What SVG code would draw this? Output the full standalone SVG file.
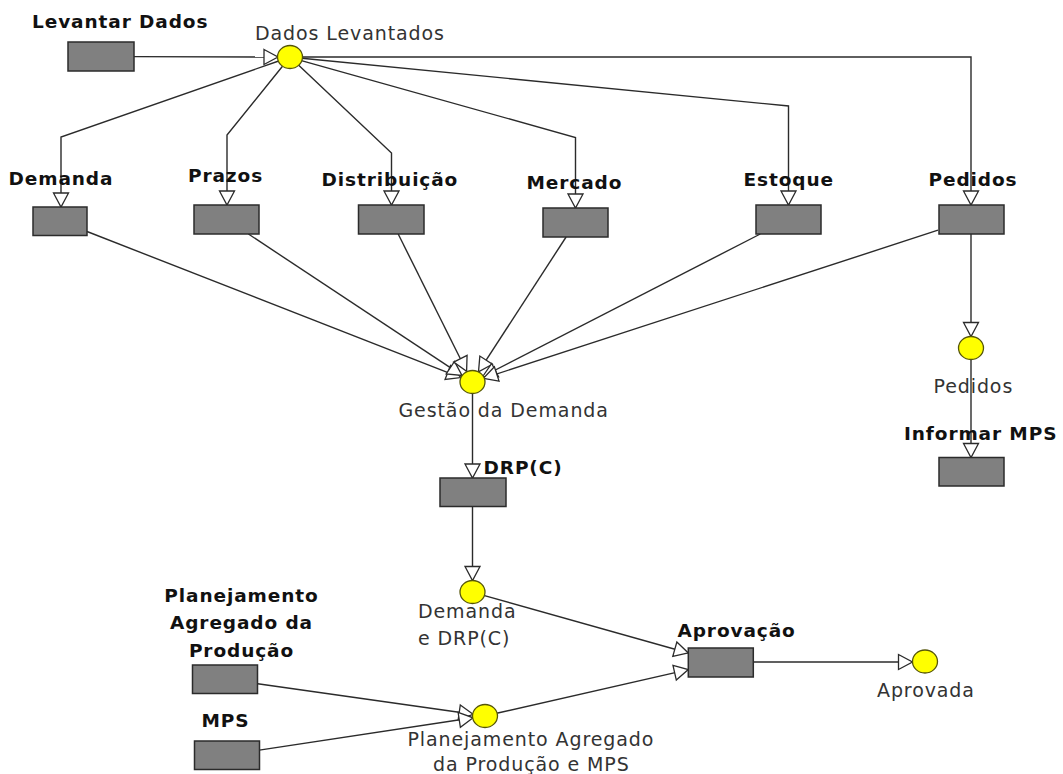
<svg xmlns="http://www.w3.org/2000/svg" width="1063" height="774" viewBox="0 0 1063 774">
<style>
.box{fill:#808080;stroke:#2b2b2b;stroke-width:1.5}
.st{fill:#ffff00;stroke:#55550a;stroke-width:1.3}
.lb{font-family:"DejaVu Sans",sans-serif;font-weight:bold;font-size:18.5px;letter-spacing:0.9px;fill:#111}
.ln{font-family:"DejaVu Sans",sans-serif;font-size:19px;letter-spacing:0.9px;fill:#333}
.c{fill:none;stroke:#2b2b2b;stroke-width:1.4;marker-end:url(#ar)}
</style>
<defs>
<marker id="ar" markerUnits="userSpaceOnUse" markerWidth="18" markerHeight="18" refX="15" refY="8.5" orient="auto" overflow="visible">
<path d="M1,1 L15,8.5 L1,16 z" fill="#fff" stroke="#2b2b2b" stroke-width="1.3"/>
</marker>
</defs>
<rect width="1063" height="774" fill="#fff"/>
<g id="connectors">
<polyline class="c" points="134,56.6 278,57"/>
<polyline class="c" points="278.7,61 61,137 61,207"/>
<polyline class="c" points="282.5,66.3 227,135 227,205"/>
<polyline class="c" points="298.7,65.3 391.5,153 391.5,205"/>
<polyline class="c" points="301.4,60.7 575.5,137.5 575.5,208"/>
<polyline class="c" points="301.9,58.2 788.5,106 788.5,205"/>
<polyline class="c" points="302,57 971,57 971,205"/>
<polyline class="c" points="87,231.5 460.8,377.6"/>
<polyline class="c" points="248.4,234 462,375.4"/>
<polyline class="c" points="398.2,234 466.6,371.3"/>
<polyline class="c" points="566.1,237 478.5,371.9"/>
<polyline class="c" points="760.3,234 482.7,376.5"/>
<polyline class="c" points="938,230.2 483.4,378.3"/>
<polyline class="c" points="472.5,393.5 472.5,478"/>
<polyline class="c" points="472.5,506 472.5,580.5"/>
<polyline class="c" points="971,234 971,336.5"/>
<polyline class="c" points="971,359.5 971,457.5"/>
<polyline class="c" points="483.6,595.3 688.3,653"/>
<polyline class="c" points="496.7,713.3 688.3,669.6"/>
<polyline class="c" points="257.7,683.7 473.1,714.3"/>
<polyline class="c" points="259.3,750.1 473.1,717.8"/>
<polyline class="c" points="753.3,662 912.5,662"/>
</g>
<g id="levantar-dados"><rect class="box" x="68" y="42" width="66" height="29"/><text class="lb" x="32" y="28">Levantar Dados</text></g>
<g id="dados-levantados"><ellipse class="st" cx="290" cy="57" rx="12.5" ry="11.5"/><text class="ln" x="255" y="40">Dados Levantados</text></g>
<g id="demanda"><rect class="box" x="33" y="207" width="54" height="28.5"/><text class="lb" x="8.5" y="185">Demanda</text></g>
<g id="prazos"><rect class="box" x="194" y="205" width="65" height="29"/><text class="lb" x="188" y="181.5">Prazos</text></g>
<g id="distribuicao"><rect class="box" x="358.5" y="205" width="65.5" height="29"/><text class="lb" x="321.5" y="186">Distribuição</text></g>
<g id="mercado"><rect class="box" x="543" y="208" width="65" height="29"/><text class="lb" x="526.5" y="189">Mercado</text></g>
<g id="estoque"><rect class="box" x="756" y="205" width="65" height="29"/><text class="lb" x="743.5" y="186">Estoque</text></g>
<g id="pedidos"><rect class="box" x="939" y="205" width="65" height="29"/><text class="lb" x="928.5" y="185.5">Pedidos</text></g>
<g id="gestao-da-demanda"><ellipse class="st" cx="472.5" cy="382" rx="12.5" ry="11.5"/><text class="ln" x="398.5" y="417">Gestão da Demanda</text></g>
<g id="drp-c"><rect class="box" x="440" y="478" width="66" height="28.5"/><text class="lb" x="483.5" y="474">DRP(C)</text></g>
<g id="pedidos-estado"><ellipse class="st" cx="971" cy="348" rx="12.5" ry="11.5"/><text class="ln" x="933.5" y="392.5">Pedidos</text></g>
<g id="informar-mps"><rect class="box" x="939" y="457.5" width="65" height="28.5"/><text class="lb" x="904" y="440">Informar MPS</text></g>
<g id="demanda-e-drp"><ellipse class="st" cx="472.5" cy="592" rx="12.5" ry="11.5"/><text class="ln" x="418" y="618">Demanda</text><text class="ln" x="418" y="645">e DRP(C)</text></g>
<g id="aprovacao"><rect class="box" x="688.3" y="648" width="65" height="29"/><text class="lb" x="677.5" y="637">Aprovação</text></g>
<g id="aprovada"><ellipse class="st" cx="925" cy="661.5" rx="12.5" ry="11.5"/><text class="ln" x="877" y="696.5">Aprovada</text></g>
<g id="planejamento-agregado"><rect class="box" x="192.5" y="665" width="65" height="28.5"/><text class="lb" text-anchor="middle"><tspan x="241.5" y="602">Planejamento</tspan><tspan x="241.5" y="629">Agregado da</tspan><tspan x="241.5" y="656.5">Produção</tspan></text></g>
<g id="mps"><rect class="box" x="194.5" y="741" width="65" height="28.5"/><text class="lb" x="201.5" y="727">MPS</text></g>
<g id="planejamento-mps"><ellipse class="st" cx="485" cy="716" rx="12.5" ry="11.5"/><text class="ln" x="407.5" y="746">Planejamento Agregado</text><text class="ln" x="433" y="771">da Produção e MPS</text></g>
</svg>
